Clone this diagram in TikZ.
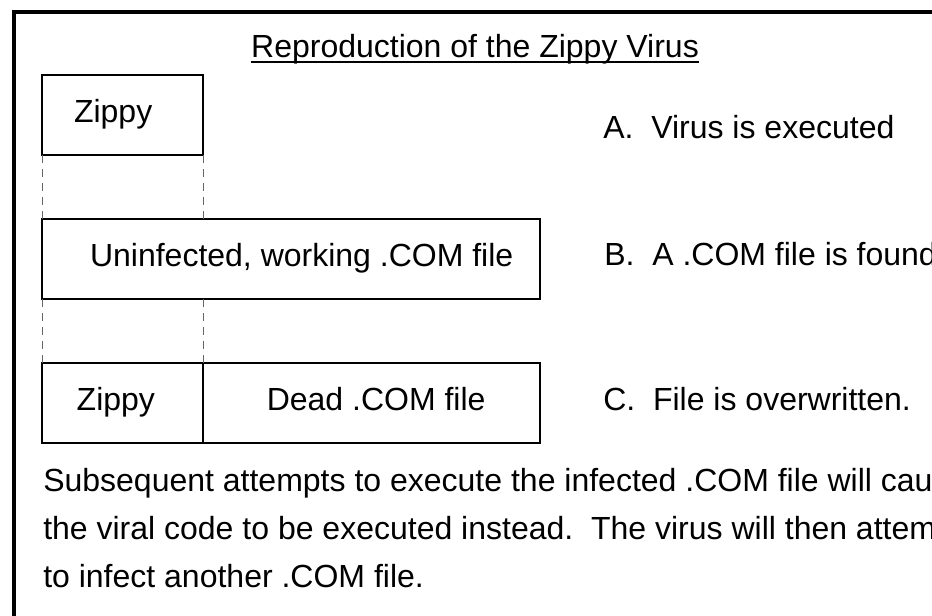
\documentclass[tikz,border=0pt]{standalone}
\usepackage{fontspec}
\setmainfont{Liberation Sans}
\usetikzlibrary{positioning}

\tikzset{
  filebox/.style={draw, line width=1.5pt, outer sep=0pt, inner sep=0pt, minimum height=60pt,
    text height=16pt, text depth=5.5pt},
  gapline/.style={draw=black!60, line width=0.75pt, dash pattern=on 6pt off 4.5pt},
  txt/.style={inner sep=0pt, anchor=base west},
}

\begin{document}
\begin{tikzpicture}[x=0.75pt, y=-0.75pt, font=\fontsize{24pt}{36pt}\selectfont]
    \useasboundingbox (0,0) rectangle (932,615);
    \clip (0,0) rectangle (932,615);
    % frame, running off the page
    \draw[line width=3pt] (13.5,12) rectangle (1000,700);

    \node[inner sep=0pt, anchor=base] (title) at (475,57.7) {Reproduction of the Zippy Virus};
    \draw[line width=1.7pt] ([yshift=-3.2pt]title.base west) -- ([yshift=-3.2pt]title.base east);

    % the three stages
    \node[filebox, anchor=north west, minimum width=120.75pt] (zippy) at (42,75) {Zippy\kern14pt};
    \node[filebox, anchor=north west, minimum width=373.5pt] (host) at (42,219) {\kern16pt Uninfected, working .COM file};
    \node[filebox, anchor=north west, minimum width=120.75pt] (zipcopy) at (42,363) {Zippy\kern10pt};
    \node[filebox, anchor=west, minimum width=252.75pt, right=0pt of zipcopy] (deadhost) {\kern7pt Dead .COM file};

    \draw[gapline] (zippy.south west) -- (host.north west);
    \draw[gapline] (zippy.south east) -- (zippy.south east |- host.north);
    \draw[gapline] (host.south west) -- (zipcopy.north west);
    \draw[gapline] (zipcopy.north east) -- (zipcopy.north east |- host.south);

    \node[txt] (stepA) at (603,138) {A.\ \ Virus is executed};
    \node[txt] (stepB) at (604,265.7) {B.\ \ A .COM file is found};
    \node[txt] (stepC) at (603,410) {C.\ \ File is overwritten.};

    \node[txt] (note1) at (43,491) {Subsequent attempts to execute the infected .COM file will cause};
    \node[txt] (note2) at (43,539) {the viral code to be executed instead.\ \ The virus will then attempt};
    \node[txt] (note3) at (43,587) {to infect another .COM file.};
\end{tikzpicture}
\end{document}
